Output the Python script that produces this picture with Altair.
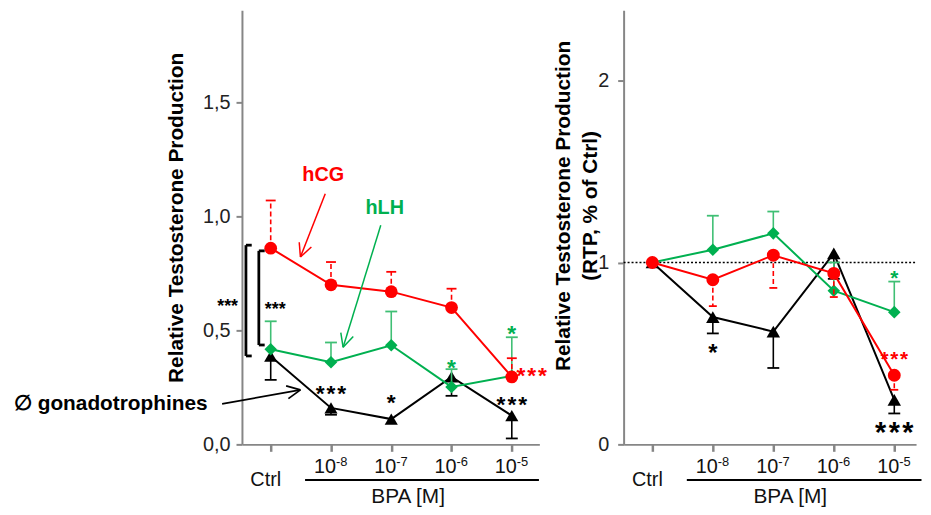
import math
import altair as alt
import pandas as pd

# ---------------- data ----------------
X_POS = [0, 1, 2, 3, 4]
X_BASE = ["Ctrl", "10", "10", "10", "10"]
X_EXP = ["", "-8", "-7", "-6", "-5"]
BPA_LABEL = ["BPA [M]"]

# Left panel: relative testosterone production
L_NONE = [0.387, 0.160, 0.111, 0.296, 0.126]
L_NONE_ERR = [0.283, 0.130, 0.111, 0.213, 0.026]   # lower error ends
L_HLH = [0.417, 0.360, 0.435, 0.252, 0.300]
L_HLH_ERR = [0.540, 0.447, 0.583, 0.330, 0.470]    # upper error ends
L_HCG = [0.861, 0.700, 0.670, 0.600, 0.296]
L_HCG_ERR = [1.070, 0.800, 0.757, 0.683, 0.378]    # upper error ends

# Right panel: RTP, % of Ctrl
R_NONE = [1.0, 0.700, 0.620, 1.050, 0.245]
R_NONE_ERR = [1.0, 0.610, 0.420, 0.910, 0.170]
R_HLH = [1.0, 1.070, 1.160, 0.845, 0.727]
R_HLH_ERR = [1.0, 1.257, 1.280, 1.000, 0.895]
R_HCG = [1.0, 0.905, 1.040, 0.940, 0.380]
R_HCG_ERR = [1.0, 0.760, 0.860, 0.810, 0.300]
R_REF = [1.0]

L_YTICKS = [0, 0.5, 1.0, 1.5]
R_YTICKS = [0, 1, 2]

# ---------------- styling ----------------
RED = "#FF0000"
GREEN = "#00B050"
BLACK = "#000000"
GRAY = "#868686"
FONT = "Liberation Sans"

H = 438
GEOM = {
    "L": dict(xd=[-0.477, 4.457], yd=[0, 1.905], w=300),
    "R": dict(xd=[-0.475, 4.36], yd=[0, 2.387], w=295),
}


def to_px(side, x, y):
    g = GEOM[side]
    px = (x - g["xd"][0]) / (g["xd"][1] - g["xd"][0]) * g["w"]
    py = (g["yd"][1] - y) / (g["yd"][1] - g["yd"][0]) * H
    return px, py


def to_data(side, px, py):
    g = GEOM[side]
    x = g["xd"][0] + px / g["w"] * (g["xd"][1] - g["xd"][0])
    y = g["yd"][1] - py / H * (g["yd"][1] - g["yd"][0])
    return x, y


def arrow_rows(side, x0, y0, x1, y1, head=15, ang=26):
    p0 = to_px(side, x0, y0)
    p1 = to_px(side, x1, y1)
    dx, dy = p0[0] - p1[0], p0[1] - p1[1]
    L = math.hypot(dx, dy)
    ux, uy = dx / L, dy / L
    rows = [dict(x=x0, y=y0, x2=x1, y2=y1)]
    for s in (1, -1):
        a = math.radians(ang * s)
        wx = ux * math.cos(a) - uy * math.sin(a)
        wy = ux * math.sin(a) + uy * math.cos(a)
        xd, yd = to_data(side, p1[0] + wx * head, p1[1] + wy * head)
        rows.append(dict(x=x1, y=y1, x2=xd, y2=yd))
    return pd.DataFrame(rows)


def make_panel(side, series, yticks, label_expr, title, title_x, title_y,
               label_pad, extras_fn):
    g = GEOM[side]
    xs = alt.Scale(domain=g["xd"], nice=False, zero=False)
    ys = alt.Scale(domain=g["yd"], nice=False, zero=False)
    xaxis = alt.Axis(values=X_POS, labels=False, title=None, grid=False,
                     tickSize=7, tickWidth=2.5, tickColor=GRAY,
                     domainColor=GRAY, domainWidth=2)
    yaxis = alt.Axis(values=yticks, labelExpr=label_expr, title=title,
                     titleX=title_x, titleY=title_y, titleAngle=270,
                     titleAlign="center", titleBaseline="alphabetic",
                     titleFontSize=21, titleFontWeight="bold",
                     titleLineHeight=28, titleColor=BLACK,
                     labelFontSize=20, labelColor="#222222",
                     labelPadding=label_pad, grid=False,
                     tickSize=6, tickWidth=2, tickColor=GRAY,
                     domainColor=GRAY, domainWidth=2)

    def X(f):
        return alt.X(f, type="quantitative", scale=xs, axis=xaxis)

    def Y(f):
        return alt.Y(f, type="quantitative", scale=ys, axis=yaxis)

    layers = []
    base = pd.DataFrame({"x": X_POS, "y": [0] * 5})
    layers.append(alt.Chart(base).mark_point(opacity=0).encode(x=X("x"), y=Y("y")))

    layers += extras_fn(X, Y, "pre")

    for vals, errs, color, ecolor, shape, size, dash, capw in series:
        df = pd.DataFrame({"x": X_POS, "y": vals, "e": errs})
        eb = df[df["e"] != df["y"]]
        rk = dict(color=ecolor, strokeWidth=1.6)
        if dash:
            rk["strokeDash"] = dash
        layers.append(alt.Chart(eb).mark_rule(**rk).encode(
            x=X("x"), y=Y("y"), y2=alt.Y2("e")))
        layers.append(alt.Chart(eb).mark_rule(
            color=ecolor, strokeWidth=1.8, xOffset=-capw, x2Offset=capw).encode(
            x=X("x"), x2=alt.X2("x"), y=Y("e")))
        layers.append(alt.Chart(df).mark_line(color=color, strokeWidth=2).encode(
            x=X("x"), y=Y("y")))
        layers.append(alt.Chart(df).mark_point(
            shape=shape, filled=True, size=size, color=color, opacity=1).encode(
            x=X("x"), y=Y("y")))

    layers += extras_fn(X, Y, "post")

    # x-axis category labels
    lab = pd.DataFrame({"x": X_POS, "base": X_BASE, "exp": X_EXP})
    ctrl = lab[lab["exp"] == ""]
    bpa = lab[lab["exp"] != ""]
    layers.append(alt.Chart(ctrl).mark_text(
        fontSize=20, align="center", baseline="alphabetic", dx=-5, color="#111111").encode(
        x=X("x"), y=alt.value(480), text="base"))
    layers.append(alt.Chart(bpa).mark_text(
        fontSize=20, align="right", baseline="alphabetic", dx=5, color="#111111").encode(
        x=X("x"), y=alt.value(467), text="base"))
    layers.append(alt.Chart(bpa).mark_text(
        fontSize=13, align="left", baseline="alphabetic", dx=5, color="#111111").encode(
        x=X("x"), y=alt.value(460), text="exp"))
    rule_df = pd.DataFrame({"x": [0.57], "x2": [4.45]})
    layers.append(alt.Chart(rule_df).mark_rule(color=BLACK, strokeWidth=2).encode(
        x=X("x"), x2=alt.X2("x2"), y=alt.value(474)))
    bpa_df = pd.DataFrame({"x": [2.28], "t": BPA_LABEL})
    layers.append(alt.Chart(bpa_df).mark_text(
        fontSize=21, align="center", baseline="alphabetic", color="#111111").encode(
        x=X("x"), y=alt.value(497), text="t"))

    return alt.layer(*layers).properties(width=g["w"], height=H)


def star(X, Y, x, y, text, color, fs):
    df = pd.DataFrame({"x": [x], "y": [y], "t": [text]})
    return alt.Chart(df).mark_text(
        fontSize=fs, fontWeight="bold", color=color, align="center",
        baseline="alphabetic", dy=round(0.55 * fs)).encode(
        x=X("x"), y=Y("y"), text="t")


def label(X, Y, x, y, text, color, fs, align="center"):
    df = pd.DataFrame({"x": [x], "y": [y], "t": [text]})
    return alt.Chart(df).mark_text(
        fontSize=fs, fontWeight="bold", color=color, align=align,
        baseline="middle").encode(x=X("x"), y=Y("y"), text="t")


def arrow(X, Y, side, x0, y0, x1, y1, color, w):
    df = arrow_rows(side, x0, y0, x1, y1)
    return alt.Chart(df).mark_rule(color=color, strokeWidth=w).encode(
        x=X("x"), y=Y("y"), x2=alt.X2("x2"), y2=alt.Y2("y2"))


SP = "\u200a"
S3 = "*" + SP + "*" + SP + "*"


def left_extras(X, Y, when):
    if when == "pre":
        return []
    out = []
    br = pd.DataFrame([
        dict(x=-0.411, y=0.874, x2=-0.411, y2=0.388),
        dict(x=-0.411, y=0.874, x2=-0.315, y2=0.874),
        dict(x=-0.411, y=0.388, x2=-0.315, y2=0.388),
        dict(x=-0.197, y=0.849, x2=-0.197, y2=0.436),
        dict(x=-0.197, y=0.849, x2=-0.100, y2=0.849),
        dict(x=-0.197, y=0.436, x2=-0.100, y2=0.436),
    ])
    out.append(alt.Chart(br).mark_rule(color=BLACK, strokeWidth=2.8).encode(
        x=X("x"), y=Y("y"), x2=alt.X2("x2"), y2=alt.Y2("y2")))
    out.append(star(X, Y, -0.715, 0.624, "***", BLACK, 18))
    out.append(star(X, Y, 0.074, 0.613, "***", BLACK, 18))
    out.append(arrow(X, Y, "L", 0.905, 1.100, 0.493, 0.822, RED, 1.5))
    out.append(arrow(X, Y, "L", 1.826, 0.961, 1.201, 0.426, GREEN, 1.5))
    out.append(arrow(X, Y, "L", -0.806, 0.178, 0.493, 0.239, BLACK, 1.7))
    out.append(label(X, Y, 0.872, 1.183, "hCG", RED, 20))
    out.append(label(X, Y, 1.891, 1.035, "hLH", GREEN, 20))
    out.append(label(X, Y, -4.26, 0.178, "\u2205 gonadotrophines", BLACK, 21, "left"))
    out.append(star(X, Y, 1.0, 0.248, S3, BLACK, 23))
    out.append(star(X, Y, 2.0, 0.209, "*", BLACK, 23))
    out.append(star(X, Y, 3.0, 0.361, "*", GREEN, 23))
    out.append(star(X, Y, 4.0, 0.509, "*", GREEN, 23))
    out.append(star(X, Y, 4.0, 0.200, S3, BLACK, 23))
    out.append(star(X, Y, 4.33, 0.326, S3, RED, 23))
    return out


def right_extras(X, Y, when):
    if when == "pre":
        ref = pd.DataFrame({"y": R_REF})
        return [alt.Chart(ref).mark_rule(color=BLACK, strokeWidth=1.6, strokeDash=[2, 2]).encode(
            y=Y("y"), x=alt.value(0), x2=alt.value(GEOM["R"]["w"]))]
    return [
        star(X, Y, 1.0, 0.53, "*", BLACK, 24),
        star(X, Y, 4.0, 0.943, "*", GREEN, 21),
        star(X, Y, 4.0, 0.499, S3, RED, 21),
        star(X, Y, 4.0, 0.103, S3, BLACK, 29),
    ]


left_series = [
    (L_NONE, L_NONE_ERR, BLACK, BLACK, "triangle-up", 175, None, 6),
    (L_HLH, L_HLH_ERR, GREEN, "#3FBF74", "diamond", 160, None, 6),
    (L_HCG, L_HCG_ERR, RED, RED, "circle", 165, [5, 3], 5),
]
right_series = [
    (R_NONE, R_NONE_ERR, BLACK, BLACK, "triangle-up", 185, None, 6),
    (R_HLH, R_HLH_ERR, GREEN, "#3FBF74", "diamond", 160, None, 6),
    (R_HCG, R_HCG_ERR, RED, RED, "circle", 170, [5, 3], 4),
]

left = make_panel("L", left_series, L_YTICKS,
                  "replace(format(datum.value, '.1f'), '.', ',')",
                  "Relative Testosterone Production", -60, 209, 6, left_extras)
right = make_panel("R", right_series, R_YTICKS,
                   "format(datum.value, 'd')",
                   ["Relative Testosterone Production", "(RTP, % of Ctrl)"],
                   -55, 197, 9, right_extras)

chart = alt.hconcat(left, right, spacing=85, bounds="flush").properties(
    padding={"left": 5, "top": 0, "right": 0, "bottom": 0}
).configure(font=FONT).configure_view(stroke=None).configure_axis(
    labelFont=FONT, titleFont=FONT)

chart.save("out.html", embed_options={"renderer": "svg", "actions": False})
